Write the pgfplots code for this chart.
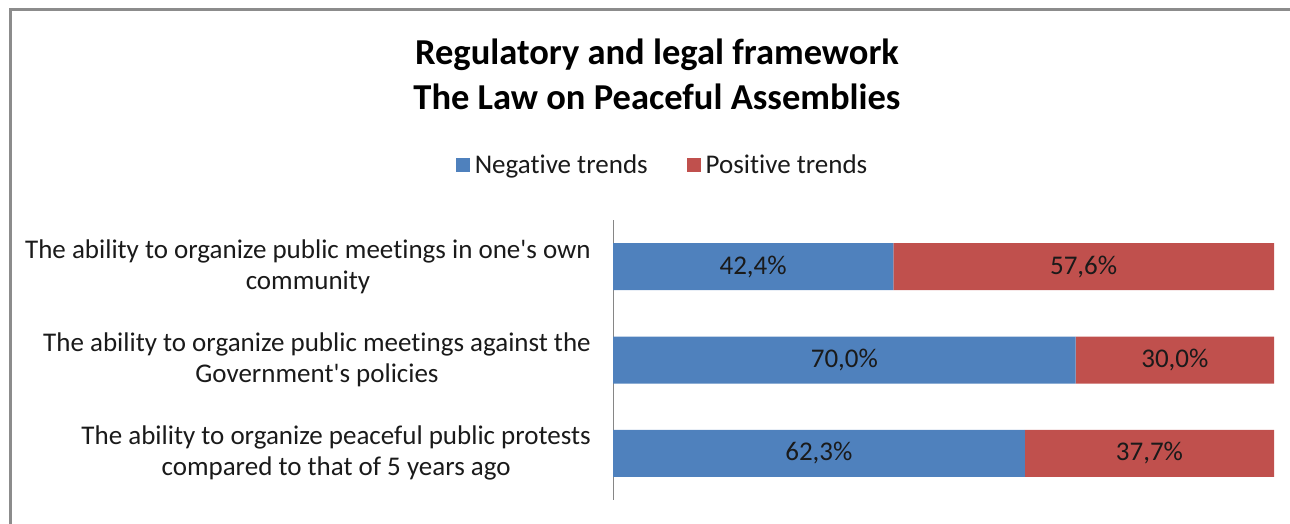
\documentclass[border=0pt]{standalone}
\usepackage{pgfplots}
\pgfplotsset{compat=1.18}
\usepackage{fontspec}
\setmainfont{Carlito}[Ligatures={NoCommon}]
\definecolor{negblue}{HTML}{4F81BD}
\definecolor{posred}{HTML}{C0504D}
\definecolor{framegray}{HTML}{8C8C8C}
\definecolor{axgray}{HTML}{868686}
\definecolor{txt}{HTML}{1A1A1A}
\newcommand{\lblfont}{\fontsize{27}{31}\selectfont}
\begin{document}
\begin{tikzpicture}
\path[use as bounding box] (0pt,0pt) rectangle (1290pt,-524pt);
\draw[framegray, line width=3pt] (10pt,-524pt) -- (10pt,-10pt) -- (1290pt,-10pt);
\node[font=\fontsize{36.5}{40}\selectfont\bfseries, anchor=base, text=black] at (657pt,-65pt) {Regulatory and legal framework};
\node[font=\fontsize{36.5}{40}\selectfont\bfseries, anchor=base, text=black] at (657pt,-110pt) {The Law on Peaceful Assemblies};
\begin{axis}[
  at={(613pt,-500pt)}, anchor=south west,
  scale only axis, width=661pt, height=280pt,
  xbar stacked, bar width=47pt,
  xmin=0, xmax=100, ymin=-0.5, ymax=2.5, y dir=reverse,
  ytick={0,1,2},
  yticklabels={{The ability to organize public meetings in one\textquotesingle s own\\community},
               {The ability to organize public meetings against the\\Government\textquotesingle s policies},
               {The ability to organize peaceful public protests\\compared to that of 5 years ago}},
  yticklabel style={align=center, font=\lblfont, text=txt, inner sep=0pt, xshift=-22pt},
  hide x axis, axis y line*=left,
  y axis line style={axgray, line width=1pt, -},
  major tick length=0pt,
  legend columns=2,
  legend style={at={(0.0749,1.196)}, anchor=center, draw=none, fill=none,
     font=\lblfont, text=txt,
     /tikz/every even column/.append style={column sep=37pt}},
  legend image code/.code={\fill[#1] (0pt,-7pt) rectangle (14pt,7pt); \path (17pt,0pt);},
]
\addplot[fill=negblue, draw=none] coordinates {(42.4,0) (70.0,1) (62.3,2)};
\addplot[fill=posred, draw=none] coordinates {(57.6,0) (30.0,1) (37.7,2)};
\legend{Negative trends, Positive trends}
\end{axis}
\begin{axis}[
  at={(613pt,-500pt)}, anchor=south west,
  scale only axis, width=661pt, height=280pt,
  xmin=0, xmax=100, ymin=-0.5, ymax=2.5, y dir=reverse,
  hide axis,
]
\addplot[only marks, mark=none, point meta=explicit,
  nodes near coords={\pgfmathprintnumber[fixed, fixed zerofill, precision=1, use comma, assume math mode=true]{\pgfplotspointmeta}\%},
  nodes near coords style={anchor=center, font=\lblfont, text=txt}]
  table[x=x, y=y, meta=v] {
x y v
21.2 0 42.4
71.2 0 57.6
35.0 1 70.0
85.0 1 30.0
31.15 2 62.3
81.15 2 37.7
};
\end{axis}
\end{tikzpicture}
\end{document}
